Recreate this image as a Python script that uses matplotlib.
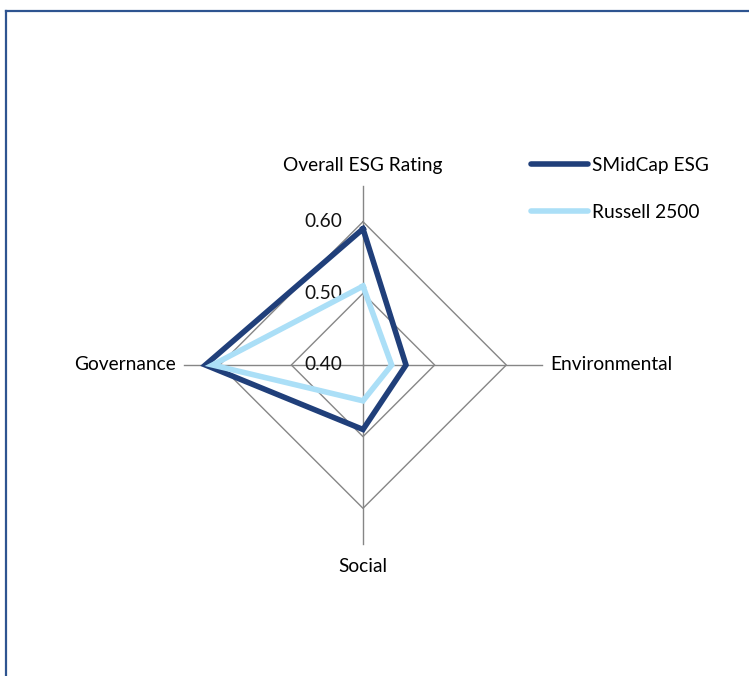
import numpy as np
import matplotlib
matplotlib.use('Agg')
from matplotlib import pyplot as plt
from matplotlib.lines import Line2D

# ~~~~~~~~~~~~~~ data ~~~~~~~~~~~~~~
categories = ['Overall ESG Rating', 'Environmental', 'Social', 'Governance']
smidcap = [0.59, 0.46, 0.49, 0.62]   # SMidCap ESG
russell = [0.51, 0.44, 0.45, 0.61]   # Russell 2500
ring_ticks = [0.40, 0.50, 0.60]
tick_labels = ['0.40', '0.50', '0.60']
r_min, r_max = 0.40, 0.65

plt.rcParams['font.family'] = ['Lato', 'DejaVu Sans']
fs = 13.8

W, H = 749, 676
cx, cy = 363, 365          # centre of radar, pixels
scale = 716.5              # pixels per unit of score

fig = plt.figure(figsize=(W / 100, H / 100), dpi=100)
ax = fig.add_axes([0, 0, 1, 1])
ax.set_xlim(-cx / scale, (W - cx) / scale)
ax.set_ylim((cy - H) / scale, cy / scale)
ax.axis('off')

# clockwise from top
angles = np.pi / 2 - np.arange(len(categories)) * 2 * np.pi / len(categories)


def to_xy(vals):
    v = np.asarray(vals) - r_min
    x = v * np.cos(angles)
    y = v * np.sin(angles)
    return np.append(x, x[0]), np.append(y, y[0])


grey = '#868686'
# ring grid (polygons)
for t in ring_ticks[1:]:
    gx, gy = to_xy([t] * len(categories))
    ax.plot(gx, gy, color=grey, lw=1.0, zorder=1)
# spokes
for a in angles:
    ax.plot([0, (r_max - r_min) * np.cos(a)], [0, (r_max - r_min) * np.sin(a)],
            color=grey, lw=1.0, zorder=1)

# tick labels on vertical axis
for t, lab in zip(ring_ticks, tick_labels):
    ax.annotate(lab, xy=(0, t - r_min), xytext=(-21, 0), textcoords='offset pixels',
                ha='right', va='center', fontsize=fs, color='#111111')

# series
sx, sy = to_xy(smidcap)
ax.plot(sx, sy, color='#203f7a', lw=4.0, solid_joinstyle='miter', zorder=3,
        label='SMidCap ESG')
rx, ry = to_xy(russell)
ax.plot(rx, ry, color='#abdff7', lw=4.0, solid_joinstyle='miter', zorder=4,
        label='Russell 2500')

# category labels
ext = r_max - r_min
ax.annotate(categories[0], xy=(0, ext), xytext=(0, 20), textcoords='offset pixels',
            ha='center', va='center', fontsize=fs)
ax.annotate(categories[1], xy=(ext, 0), xytext=(8, 0), textcoords='offset pixels',
            ha='left', va='center', fontsize=fs)
ax.annotate(categories[2], xy=(0, -ext), xytext=(0, -22), textcoords='offset pixels',
            ha='center', va='center', fontsize=fs)
ax.annotate(categories[3], xy=(-ext, 0), xytext=(-8, 0), textcoords='offset pixels',
            ha='right', va='center', fontsize=fs)

# legend
leg = ax.legend(loc='upper left', bbox_to_anchor=(531 / W, 1 - 157 / H),
                frameon=False, fontsize=fs, handlelength=2.95, handletextpad=0.22,
                labelspacing=1.55, borderpad=0, borderaxespad=0)
for h in leg.get_lines():
    h.set_solid_capstyle('round')

# border of the chart area (top and left only visible)
bc = '#2e5490'
fig.add_artist(Line2D([6 / W, 1], [1 - 11 / H, 1 - 11 / H], color=bc, lw=1.6,
                      transform=fig.transFigure))
fig.add_artist(Line2D([6 / W, 6 / W], [1 - 11 / H, 0], color=bc, lw=1.6,
                      transform=fig.transFigure))

fig.savefig('out.png', dpi=100)
